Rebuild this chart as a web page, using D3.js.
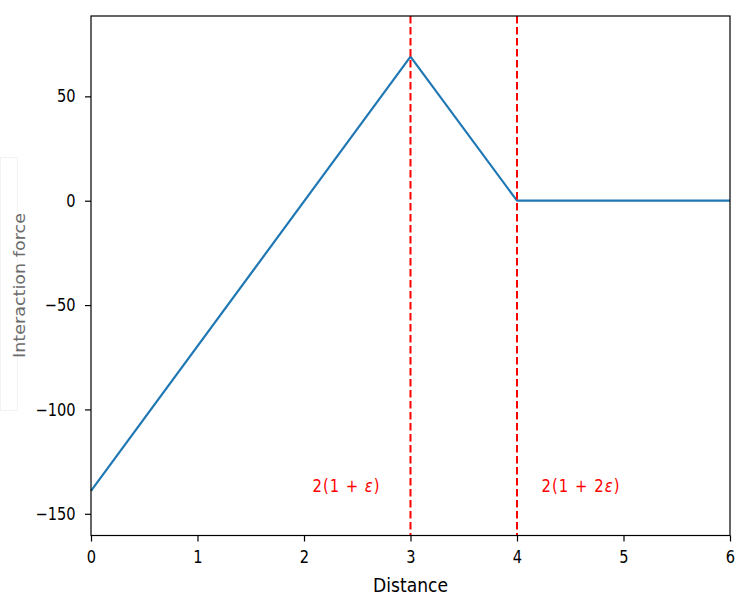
<!DOCTYPE html>
<html>
<head>
<meta charset="utf-8">
<script src="https://cdn.jsdelivr.net/npm/d3@7"></script>
<style>
  body { margin: 0; background: #fff; }
  svg { font-family: "DejaVu Sans", sans-serif; }
</style>
</head>
<body>
<svg id="chart" width="736" height="600"></svg>
<script>
// Piecewise interaction force vs. distance
const distance = [0, 3, 4, 6];
const force = [-139, 69, 0, 0];
const thresholds = [3, 4];
const thresholdLabels = [
  { x: 2.08, y: -139.5, parts: ["2(1 + ", "ε", ")"], len: 67 },
  { x: 4.23, y: -139.5, parts: ["2(1 + 2", "ε", ")"], len: 78 }
];
const xTicks = [0, 1, 2, 3, 4, 5, 6];
const yTicks = [-150, -100, -50, 0, 50];
const xDomain = [0, 6];
const yDomain = [-160.4, 88.5];

const W = 736, H = 600;
const plot = { left: 91, right: 730, top: 16, bottom: 535.5 };
const SY = 1.2;           // vertical glyph stretch
const svg = d3.select("#chart");

const x = d3.scaleLinear().domain(xDomain).range([plot.left, plot.right]);
const y = d3.scaleLinear().domain(yDomain).range([plot.bottom, plot.top]);

const g = svg.append("g");

// main curve
const line = d3.line().x((d, i) => x(distance[i])).y(d => y(d));
g.append("path")
  .datum(force)
  .attr("d", line)
  .attr("fill", "none")
  .attr("stroke", "#1f77b4")
  .attr("stroke-width", 2.2)
  .attr("stroke-linejoin", "round");

// threshold markers
g.selectAll("line.thr")
  .data(thresholds)
  .join("line")
  .attr("class", "thr")
  .attr("x1", d => x(d)).attr("x2", d => x(d))
  .attr("y1", y(yDomain[1])).attr("y2", y(yDomain[0]))
  .attr("stroke", "red")
  .attr("stroke-width", 2)
  .attr("stroke-dasharray", "7.5,3.5");

// threshold annotations
thresholdLabels.forEach(l => {
  const t = g.append("text")
    .attr("transform", `translate(${x(l.x)},${y(l.y)}) scale(1,${SY})`)
    .attr("fill", "red")
    .attr("font-size", 14.8)
    .attr("textLength", l.len)
    .attr("lengthAdjust", "spacing");
  l.parts.forEach((p, i) => {
    t.append("tspan").text(p).attr("font-style", i === 1 ? "italic" : "normal");
  });
});

// axes
const xAxis = d3.axisBottom(x).tickValues(xTicks).tickSize(6).tickFormat(d3.format("d"));
const yAxis = d3.axisLeft(y).tickValues(yTicks).tickSize(6)
  .tickFormat(d => d < 0 ? "\u2212" + Math.abs(d) : d);

const gx = svg.append("g").attr("transform", `translate(0,${plot.bottom})`).call(xAxis);
const gy = svg.append("g").attr("transform", `translate(${plot.left},0)`).call(yAxis);
[gx, gy].forEach(a => {
  a.select(".domain").remove();
  a.selectAll("line").attr("stroke", "#000").attr("stroke-width", 1.2);
  a.selectAll("text").attr("font-size", 14.6).attr("fill", "#000")
    .attr("font-family", "DejaVu Sans, sans-serif");
});
gx.selectAll("text")
  .attr("y", 0)
  .attr("transform", `translate(0,15) scale(1,${SY})`);
gy.selectAll("text")
  .attr("x", 0)
  .attr("transform", `translate(-15.5,0) scale(1,${SY})`);

// frame
svg.append("rect")
  .attr("x", plot.left).attr("y", plot.top)
  .attr("width", plot.right - plot.left)
  .attr("height", plot.bottom - plot.top)
  .attr("fill", "none").attr("stroke", "#000").attr("stroke-width", 1.2);

// axis titles
svg.append("text")
  .attr("transform", `translate(${(x(0) + x(6)) / 2 - 37.5},592) scale(1,${SY})`)
  .attr("font-size", 16.5)
  .attr("textLength", 75).attr("lengthAdjust", "spacingAndGlyphs")
  .text("Distance");

svg.append("rect")
  .attr("x", 0.5).attr("y", 157.5).attr("width", 17).attr("height", 253)
  .attr("fill", "none").attr("stroke", "#f3f3f3");
svg.append("text")
  .attr("transform", `translate(24.5,358) rotate(-90)`)
  .attr("font-size", 15.5)
  .attr("textLength", 145).attr("lengthAdjust", "spacingAndGlyphs")
  .attr("fill", "#6b6b6b")
  .text("Interaction force");
</script>
</body>
</html>
